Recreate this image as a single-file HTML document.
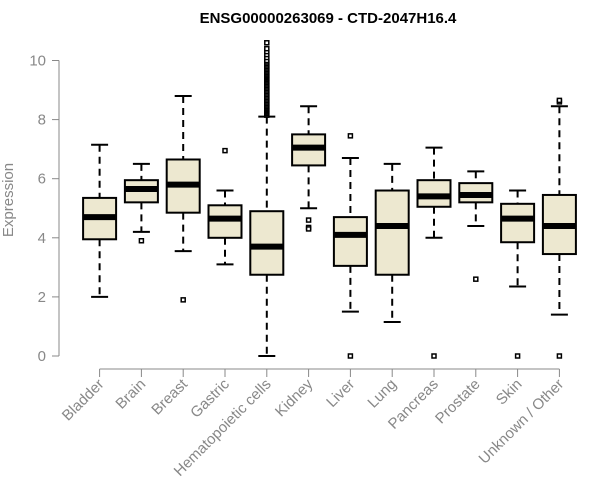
<!DOCTYPE html>
<html><head><meta charset="utf-8"><style>
body{margin:0;background:#fff;}
svg{display:block;font-family:"Liberation Sans",sans-serif;}
</style></head><body>
<svg id="chart" width="600" height="500">
<text x="328" y="23" text-anchor="middle" font-weight="bold" font-size="15" fill="#000">ENSG00000263069 - CTD-2047H16.4</text>
<text transform="translate(13,200) rotate(-90)" text-anchor="middle" font-size="15" fill="#888">Expression</text>
<g id="plot"></g>
</svg>
<script>
const categories=["Bladder","Brain","Breast","Gastric","Hematopoietic cells","Kidney","Liver","Lung","Pancreas","Prostate","Skin","Unknown / Other"];
const whiskerHigh=[7.15,6.5,8.8,5.6,8.1,8.45,6.7,6.5,7.05,6.25,5.6,8.45];
const q3=[5.35,5.95,6.65,5.1,4.9,7.5,4.7,5.6,5.95,5.85,5.15,5.45];
const medians=[4.7,5.65,5.8,4.65,3.7,7.05,4.1,4.4,5.4,5.45,4.65,4.4];
const q1=[3.95,5.2,4.85,4.0,2.75,6.45,3.05,2.75,5.05,5.2,3.85,3.45];
const whiskerLow=[2.0,4.2,3.55,3.1,0,5.0,1.5,1.15,4.0,4.4,2.35,1.4];
const outliers=[[],[3.9],[1.9],[6.95],[8.15,8.2,8.25,8.3,8.35,8.4,8.45,8.5,8.55,8.6,8.65,8.7,8.75,8.8,8.85,8.9,8.95,9.0,9.05,9.1,9.15,9.2,9.25,9.3,9.35,9.4,9.45,9.5,9.55,9.6,9.65,9.7,9.75,9.8,9.85,9.9,9.95,10.0,10.1,10.2,10.3,10.4,10.6],[4.6,4.35,4.3],[7.45,0],[],[0],[2.6],[0],[0,8.6,8.65]];
const yTicks=[0,2,4,6,8,10];
const NS="http://www.w3.org/2000/svg";
const g=document.getElementById('plot');
const y=v=>356-v*29.55;
const x=i=>99.6+i*41.8;
function el(t,a,p){const e=document.createElementNS(NS,t);for(const k in a)e.setAttribute(k,a[k]);(p||g).appendChild(e);return e;}
let ax=el('line',{x1:59,x2:59,y1:y(10),y2:y(0),stroke:'#888','stroke-width':1});


yTicks.forEach(v=>{
  const t=el('line',{x1:52,x2:59,y1:y(v),y2:y(v),stroke:'#888'});
  
  
  const l=el('text',{x:46,y:y(v)+5,'text-anchor':'end','font-size':15,fill:'#888'});
  l.textContent=v;
  
  
});
let xa=el('line',{x1:x(0),x2:x(categories.length-1),y1:369,y2:369,stroke:'#888'});


categories.forEach((c,i)=>{
  const cx=x(i);
  const t=el('line',{x1:cx,x2:cx,y1:369,y2:377,stroke:'#888'});
  
  
  const l=el('text',{transform:`translate(${cx+5},${385}) rotate(-45)`,'text-anchor':'end','font-size':15,fill:'#888'});
  l.textContent=c;
  
  
  const bg=el('g',{});
  
  
  el('line',{x1:cx,x2:cx,y1:y(whiskerHigh[i]),y2:y(q3[i]),stroke:'#000','stroke-width':2,'stroke-dasharray':'7,5'},bg);
  el('line',{x1:cx,x2:cx,y1:y(q1[i]),y2:y(whiskerLow[i]),stroke:'#000','stroke-width':2,'stroke-dasharray':'7,5'},bg);
  el('line',{x1:cx-8.5,x2:cx+8.5,y1:y(whiskerHigh[i]),y2:y(whiskerHigh[i]),stroke:'#000','stroke-width':2},bg);
  el('line',{x1:cx-8.5,x2:cx+8.5,y1:y(whiskerLow[i]),y2:y(whiskerLow[i]),stroke:'#000','stroke-width':2},bg);
  el('rect',{x:cx-16.5,y:y(q3[i]),width:33,height:y(q1[i])-y(q3[i]),fill:'#ede8d0',stroke:'#000','stroke-width':2},bg);
  el('line',{x1:cx-16.5,x2:cx+16.5,y1:y(medians[i]),y2:y(medians[i]),stroke:'#000','stroke-width':6},bg);
  outliers[i].forEach(v=>{
    const o=el('rect',{x:cx-2,y:y(v)-2,width:4,height:4,fill:'#fff',stroke:'#000','stroke-width':1.5},bg);
    
    
  });
});
</script>
</body></html>
